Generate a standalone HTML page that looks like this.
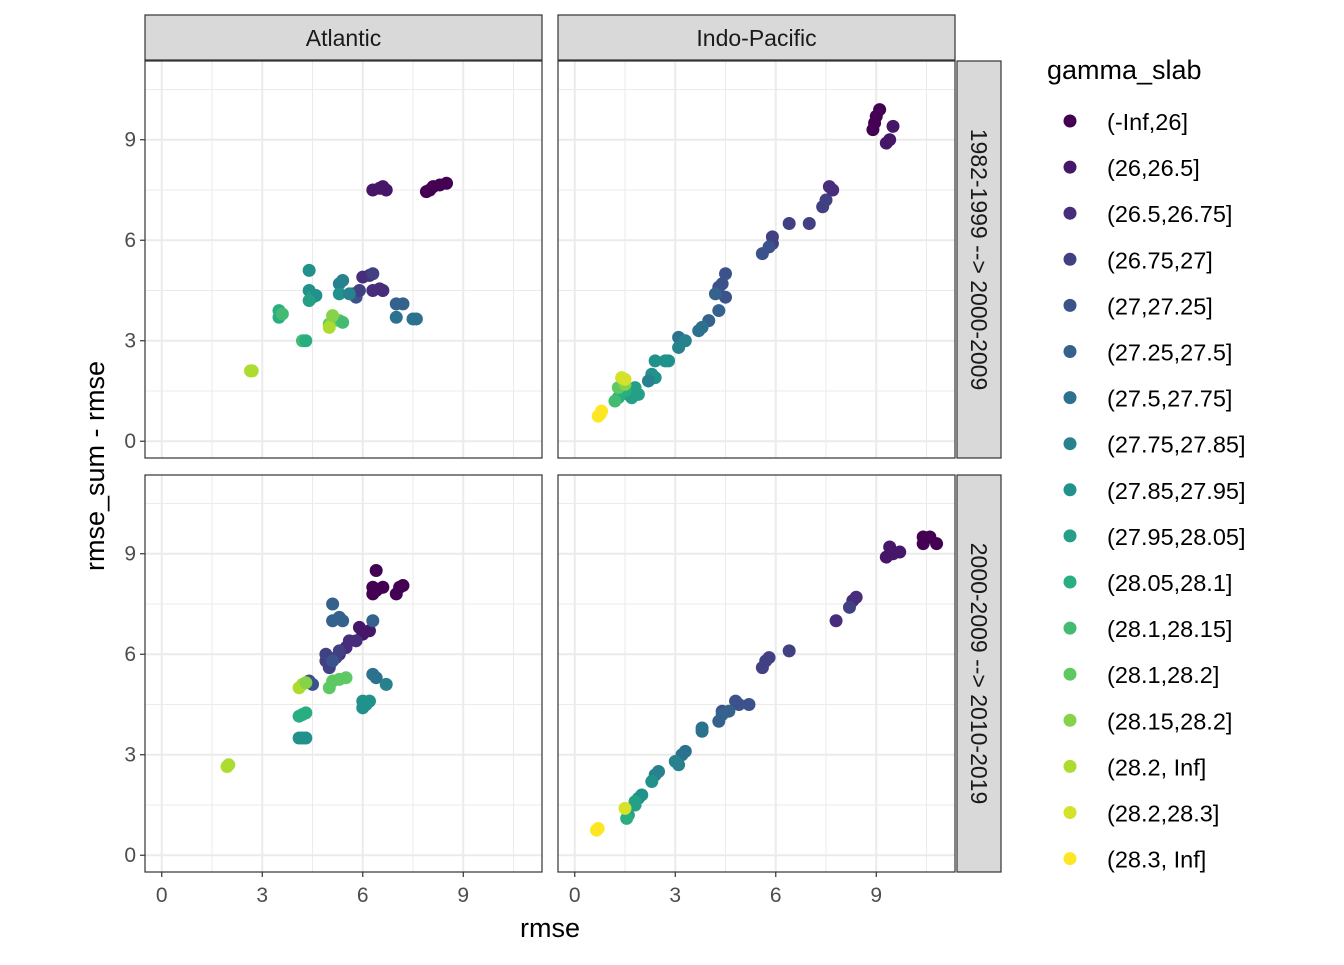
<!DOCTYPE html>
<html><head><meta charset="utf-8"><style>
body{margin:0;background:#fff;}
text{font-family:"Liberation Sans",sans-serif;}
</style></head><body>
<svg id="chart" width="1344" height="960" xmlns="http://www.w3.org/2000/svg"></svg>
<script>
const colNames=["(-Inf,26]","(26,26.5]","(26.5,26.75]","(26.75,27]","(27,27.25]","(27.25,27.5]","(27.5,27.75]","(27.75,27.85]","(27.85,27.95]","(27.95,28.05]","(28.05,28.1]","(28.1,28.15]","(28.1,28.2]","(28.15,28.2]","(28.2, Inf]","(28.2,28.3]","(28.3, Inf]"];
const xTicks=[0,3,6,9];
const yTicks=[0,3,6,9];
const colLabels=["Atlantic","Indo-Pacific"];
const rowLabels=["1982-1999 --> 2000-2009","2000-2009 --> 2010-2019"];
// [rmse, rmse_sum - rmse, class index]
const ptsAtl1=[[8.0,7.5,0],[8.1,7.6,0],[8.3,7.65,0],[8.5,7.7,0],[7.9,7.45,0],[6.3,7.5,1],[6.5,7.55,1],[6.6,7.6,1],[6.7,7.5,1],[6.0,4.9,2],[6.2,4.95,2],[6.3,5.0,3],[6.3,4.5,2],[6.5,4.55,2],[6.6,4.5,2],[5.7,4.4,4],[5.8,4.3,4],[5.9,4.5,3],[7.0,4.1,5],[7.2,4.1,5],[7.0,3.7,6],[7.5,3.65,6],[7.6,3.65,6],[5.3,4.7,7],[5.4,4.8,7],[5.3,4.4,8],[5.6,4.4,7],[4.4,5.1,8],[4.4,4.5,8],[4.5,4.3,9],[4.6,4.35,8],[4.4,4.2,9],[3.5,3.7,10],[3.5,3.9,10],[3.6,3.8,11],[4.2,3.0,11],[4.3,3.0,10],[5.0,3.5,12],[5.1,3.6,13],[5.3,3.6,12],[5.4,3.55,11],[5.0,3.4,14],[5.1,3.75,13],[2.7,2.1,14],[2.65,2.1,14]];
const ptsInd1=[[8.9,9.3,0],[9.0,9.7,0],[9.1,9.9,0],[8.95,9.5,0],[9.3,8.9,1],[9.4,9.0,1],[9.5,9.4,1],[7.6,7.6,2],[7.7,7.5,2],[7.5,7.2,3],[7.4,7.0,3],[6.4,6.5,3],[7.0,6.5,3],[5.9,6.1,3],[5.9,5.9,3],[5.8,5.8,4],[5.6,5.6,4],[4.3,4.6,4],[4.4,4.7,4],[4.5,5.0,4],[4.5,4.3,4],[4.2,4.4,5],[4.3,3.9,5],[4.0,3.6,5],[3.8,3.4,6],[3.7,3.3,6],[3.1,3.1,6],[3.3,3.0,7],[3.1,2.8,7],[2.8,2.4,8],[2.7,2.4,8],[2.4,2.4,8],[2.3,2.0,8],[2.4,1.9,8],[2.2,1.8,7],[1.8,1.6,9],[1.7,1.3,9],[1.6,1.4,9],[1.9,1.4,9],[1.5,1.5,10],[1.3,1.3,10],[1.2,1.2,11],[1.3,1.6,12],[1.5,1.7,13],[1.4,1.9,15],[1.5,1.85,15],[0.8,0.9,16],[0.75,0.8,16],[0.7,0.75,16]];
const ptsAtl2=[[6.4,8.5,0],[6.3,8.0,0],[6.3,7.8,0],[6.6,8.0,0],[7.0,7.8,0],[7.1,8.0,0],[7.2,8.05,0],[6.4,7.9,0],[5.9,6.8,1],[6.0,6.6,1],[6.2,6.7,1],[5.8,6.4,2],[5.6,6.4,2],[5.5,6.2,2],[5.3,6.0,2],[5.2,5.9,3],[4.9,5.8,3],[5.0,5.6,3],[5.3,6.1,3],[4.9,6.0,3],[5.1,5.8,4],[4.4,5.2,4],[4.5,5.1,4],[6.3,7.0,5],[5.1,7.5,5],[5.1,7.0,5],[5.3,7.1,5],[5.4,7.0,5],[6.3,5.4,6],[6.4,5.3,6],[6.7,5.1,7],[6.0,4.6,8],[6.2,4.6,8],[6.1,4.5,8],[6.0,4.4,8],[4.1,3.5,8],[4.3,3.5,8],[4.2,3.5,8],[4.2,4.2,10],[4.3,4.25,10],[4.1,4.15,10],[5.1,5.2,12],[5.3,5.25,12],[5.5,5.3,12],[5.0,5.0,12],[4.2,5.1,14],[4.1,5.0,14],[4.3,5.15,13],[2.0,2.7,14],[1.95,2.65,14]];
const ptsInd2=[[10.4,9.5,0],[10.6,9.5,0],[10.8,9.3,0],[10.4,9.3,0],[9.3,8.9,1],[9.5,9.0,1],[9.4,9.2,1],[9.7,9.05,1],[8.3,7.6,2],[8.4,7.7,2],[8.2,7.4,3],[7.8,7.0,2],[6.4,6.1,3],[5.8,5.9,3],[5.7,5.8,3],[5.6,5.6,3],[4.9,4.5,4],[5.2,4.5,4],[4.8,4.6,4],[4.4,4.3,4],[4.6,4.3,5],[4.4,4.2,5],[4.3,4.0,5],[3.8,3.8,6],[3.8,3.7,6],[3.3,3.1,6],[3.2,3.0,6],[3.0,2.8,7],[3.1,2.7,7],[2.5,2.5,7],[2.4,2.4,7],[2.3,2.2,8],[2.0,1.8,8],[1.9,1.7,8],[1.8,1.6,9],[1.8,1.5,9],[1.6,1.2,9],[1.55,1.1,10],[1.5,1.4,15],[0.7,0.8,16],[0.65,0.75,16]];
const panelData=[[ptsAtl1,ptsInd1],[ptsAtl2,ptsInd2]];

const stops=["#440154","#472D7B","#3B528B","#2C728E","#21918C","#28AE80","#5EC962","#ADDC30","#FDE725"];
function hx(c){return [1,3,5].map(i=>parseInt(c.substr(i,2),16));}
function vir(t){const s=t*8,i=Math.min(7,Math.floor(s)),f=s-i,a=hx(stops[i]),b=hx(stops[i+1]);return "rgb("+a.map((v,k)=>Math.round(v+(b[k]-v)*f)).join(",")+")";}
const colors=colNames.map((_,i)=>vir(i/16));

const svg=document.getElementById('chart');const NS="http://www.w3.org/2000/svg";
function el(tag,attrs,parent,txt){const e=document.createElementNS(NS,tag);for(const k in attrs)e.setAttribute(k,attrs[k]);if(txt!==undefined)e.textContent=txt;(parent||svg).appendChild(e);return e;}
const PX=[145,558],PY=[61,475],PW=397,PH=397,lo=-0.5,hi=11.35;
function sx(p,v){return PX[p]+(v-lo)/(hi-lo)*PW;}
function sy(r,v){return PY[r]+PH-(v-lo)/(hi-lo)*PH;}
for(let r=0;r<2;r++)for(let c=0;c<2;c++){
 const g=el('g',{},svg);
 
 
 el('rect',{x:PX[c],y:PY[r],width:PW,height:PH,fill:'#fff'},g);
 [1.5,4.5,7.5,10.5].forEach(v=>{el('line',{x1:sx(c,v),x2:sx(c,v),y1:PY[r],y2:PY[r]+PH,stroke:'#ebebeb','stroke-width':1},g);el('line',{y1:sy(r,v),y2:sy(r,v),x1:PX[c],x2:PX[c]+PW,stroke:'#ebebeb','stroke-width':1},g);});
 xTicks.forEach(v=>el('line',{x1:sx(c,v),x2:sx(c,v),y1:PY[r],y2:PY[r]+PH,stroke:'#ebebeb','stroke-width':2},g));
 yTicks.forEach(v=>el('line',{y1:sy(r,v),y2:sy(r,v),x1:PX[c],x2:PX[c]+PW,stroke:'#ebebeb','stroke-width':2},g));
 panelData[r][c].forEach(p=>{const d=el('circle',{cx:sx(c,p[0]),cy:sy(r,p[1]),r:6.5,fill:colors[p[2]]},g);
  });
 el('rect',{x:PX[c],y:PY[r],width:PW,height:PH,fill:'none',stroke:'#333','stroke-width':1.2},g);
 if(c==0){yTicks.forEach(v=>{el('line',{x1:PX[0]-5,x2:PX[0],y1:sy(r,v),y2:sy(r,v),stroke:'#333','stroke-width':1.2},g);
   const t=el('text',{x:PX[0]-9,y:sy(r,v)+7,'text-anchor':'end','font-size':21,fill:'#4d4d4d'},g,v);});}
 if(r==1){xTicks.forEach(v=>{el('line',{x1:sx(c,v),x2:sx(c,v),y1:PY[1]+PH,y2:PY[1]+PH+5,stroke:'#333','stroke-width':1.2},g);
   const t=el('text',{x:sx(c,v),y:PY[1]+PH+30,'text-anchor':'middle','font-size':21,fill:'#4d4d4d'},g,v);});}
}
colLabels.forEach((l,c)=>{const g=el('g',{});
 el('rect',{x:PX[c],y:15,width:PW,height:45,fill:'#d9d9d9',stroke:'#333','stroke-width':1.2},g);
 el('text',{x:PX[c]+PW/2,y:46,'text-anchor':'middle','font-size':23,fill:'#1a1a1a'},g,l);});
rowLabels.forEach((l,r)=>{const g=el('g',{});
 el('rect',{x:957,y:PY[r],width:44,height:PH,fill:'#d9d9d9',stroke:'#333','stroke-width':1.2},g);
 const cx=971,cy=PY[r]+PH/2;el('text',{x:cx,y:cy,'text-anchor':'middle','font-size':23,fill:'#1a1a1a',transform:'rotate(90 '+cx+' '+cy+')'},g,l);});
el('text',{x:550,y:937,'text-anchor':'middle','font-size':27,fill:'#000',},svg,'rmse');
el('text',{x:104,y:466,'text-anchor':'middle','font-size':27,fill:'#000',transform:'rotate(-90 104 466)',},svg,'rmse_sum - rmse');
const lg=el('g',{});
el('text',{x:1047,y:79,'font-size':27,fill:'#000'},lg,'gamma_slab');
colNames.forEach((n,i)=>{const y=121+46.1*i;const g=el('g',{},lg);
 
 el('circle',{cx:1070,cy:y,r:6.5,fill:colors[i]},g);
 el('text',{x:1107,y:y+9,'font-size':23.5,fill:'#000'},g,n);});
</script>
</body></html>
